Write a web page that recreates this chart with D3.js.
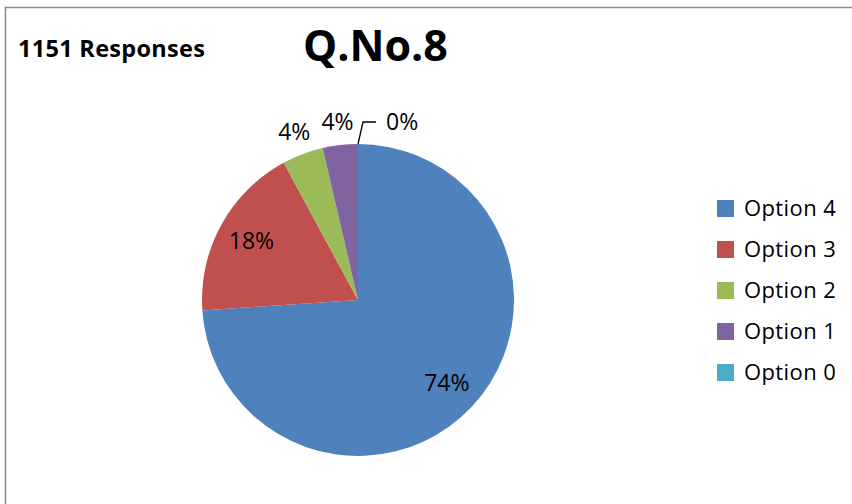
<!DOCTYPE html>
<html>
<head>
<meta charset="utf-8">
<script src="https://cdn.jsdelivr.net/npm/d3@7"></script>
<style>
  html, body { margin: 0; padding: 0; background: #fff; }
  svg { display: block; font-family: "Open Sans", sans-serif; }
</style>
</head>
<body>
<svg id="chart" width="852" height="504"></svg>
<script>
// ---- data ----
const categories = ["Option 4", "Option 3", "Option 2", "Option 1", "Option 0"];
const counts = [851, 209, 49, 42, 0];
const percentLabels = ["74%", "18%", "4%", "4%", "0%"];
const colors = ["#4F81BD", "#C0504D", "#9BBB59", "#8064A2", "#4BACC6"];
const titleText = "Q.No.8";
const responsesText = "1151 Responses";

const svg = d3.select("#chart");
const W = 852, H = 504;

// frame
svg.append("rect")
  .attr("x", 5.5).attr("y", 7.5)
  .attr("width", W + 20).attr("height", H + 20)
  .attr("fill", "#fff").attr("stroke", "#8c8c8c").attr("stroke-width", 1.5);

// titles
svg.append("text").attr("x", 18).attr("y", 57)
  .attr("font-weight", "bold").attr("font-size", 23.5)
  .attr("letter-spacing", 0.3)
  .attr("fill", "#000").text(responsesText);
svg.append("text").attr("x", 375.5).attr("y", 61)
  .attr("text-anchor", "middle")
  .attr("font-weight", "bold").attr("font-size", 43)
  .attr("fill", "#000").text(titleText);

// pie
const cx = 358, cy = 300, R = 156;
const g = svg.append("g").attr("transform", `translate(${cx},${cy})`);
const pie = d3.pie().sort(null).value(d => d.v);
const data = categories.map((c, i) => ({ c, v: counts[i], label: percentLabels[i], color: colors[i] }));
const arcs = pie(data);
const arc = d3.arc().innerRadius(0).outerRadius(R);

g.selectAll("path.slice").data(arcs).join("path")
  .attr("class", "slice")
  .attr("d", arc)
  .attr("fill", d => d.data.color);

// labels
const inside = d3.arc().innerRadius(R * 0.78).outerRadius(R * 0.78);
const outside = d3.arc().innerRadius(R * 1.15).outerRadius(R * 1.15);
arcs.forEach((d, i) => {
  const frac = (d.endAngle - d.startAngle) / (2 * Math.PI);
  if (frac > 0.1) {
    const [x, y] = inside.centroid(d);
    g.append("text").attr("x", x).attr("y", y).attr("dy", "0.35em")
      .attr("text-anchor", "middle").attr("font-size", 23).attr("fill", "#000")
      .text(d.data.label);
  } else if (frac > 0.001) {
    const [x, y] = outside.centroid(d);
    g.append("text").attr("x", x).attr("y", y).attr("dy", "0.35em")
      .attr("text-anchor", "middle").attr("font-size", 23).attr("fill", "#000")
      .text(d.data.label);
  } else {
    // zero slice: leader line
    const a = d.startAngle;
    const p0 = [Math.sin(a) * R, -Math.cos(a) * R];
    const p1 = [p0[0] + 5, p0[1] - 22];
    const p2 = [p1[0] + 13, p1[1]];
    g.append("path")
      .attr("d", d3.line()([p0, p1, p2]))
      .attr("fill", "none").attr("stroke", "#000").attr("stroke-width", 1.3);
    g.append("text").attr("x", p2[0] + 10).attr("y", p2[1]).attr("dy", "0.35em")
      .attr("font-size", 23).attr("fill", "#000").text(d.data.label);
  }
});

// legend
const legend = svg.append("g").attr("transform", "translate(717,200)");
const ly = d3.scaleBand().domain(categories).range([0, 41 * categories.length]);
const items = legend.selectAll("g").data(data).join("g")
  .attr("transform", d => `translate(0,${ly(d.c)})`);
items.append("rect").attr("width", 17).attr("height", 17).attr("fill", d => d.color);
items.append("text").attr("x", 27).attr("y", 8.5).attr("dy", "0.36em")
  .attr("font-size", 22).attr("letter-spacing", 0.4).attr("fill", "#000").text(d => d.c);
</script>
</body>
</html>
